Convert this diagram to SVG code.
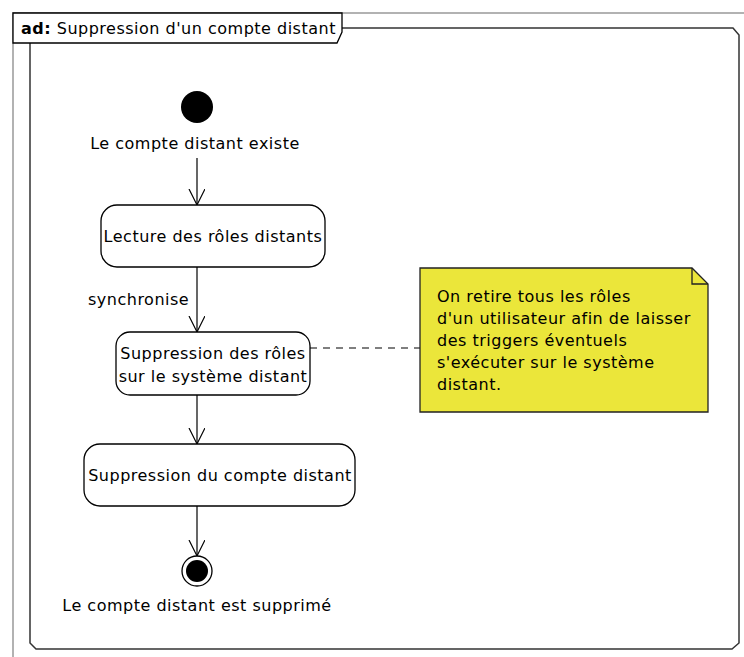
<svg xmlns="http://www.w3.org/2000/svg" width="744" height="657" viewBox="0 0 744 657">
<defs>
<style>
.t{font-family:"DejaVu Sans","Liberation Sans",sans-serif;font-size:16px;letter-spacing:0.5px;fill:#000}
.node{fill:#fff;stroke:#000;stroke-width:1.3}
.edge{stroke:#000;stroke-width:1.2;fill:none}
</style>
<marker id="arr" viewBox="0 0 20 20" refX="16" refY="8" markerWidth="20" markerHeight="20" markerUnits="userSpaceOnUse" orient="auto">
<path d="M0,0 L16,8 L0,16" fill="none" stroke="#000" stroke-width="1.2"/>
</marker>
</defs>
<rect width="744" height="657" fill="#fff"/>
<g id="frame">
<path d="M13,657 V13 H744" fill="none" stroke="#999" stroke-width="1.5"/>
<path d="M342,28 H733 L739,35 V643 L732,649 H36 L30,643 V43" fill="none" stroke="#333" stroke-width="1.5"/>
<path d="M13,13 H342 V32 L337,43 H13 Z" fill="#fff" stroke="#000" stroke-width="1.3"/>
<text class="t" x="21" y="34"><tspan font-weight="bold">ad:</tspan> Suppression d'un compte distant</text>
</g>
<g id="edges">
<line class="edge" x1="197" y1="158" x2="197" y2="205" marker-end="url(#arr)"/>
<line class="edge" x1="197" y1="267" x2="197" y2="332" marker-end="url(#arr)"/>
<text class="t" x="88" y="305">synchronise</text>
<line class="edge" x1="197" y1="395" x2="197" y2="444" marker-end="url(#arr)"/>
<line class="edge" x1="197" y1="506" x2="197" y2="556" marker-end="url(#arr)"/>
<line class="edge" x1="310" y1="348" x2="420" y2="348" stroke-dasharray="7,6"/>
</g>
<g id="start">
<circle cx="197" cy="107" r="16" fill="#000"/>
<text class="t" x="195" y="149" text-anchor="middle">Le compte distant existe</text>
</g>
<g id="lecture">
<rect class="node" x="101" y="205" width="224" height="62" rx="16"/>
<text class="t" x="213" y="242" text-anchor="middle">Lecture des rôles distants</text>
</g>
<g id="suppRoles">
<rect class="node" x="116" y="332" width="194" height="63" rx="14"/>
<text class="t" x="213" y="359" text-anchor="middle">Suppression des rôles</text>
<text class="t" x="213" y="382" text-anchor="middle">sur le système distant</text>
</g>
<g id="suppCompte">
<rect class="node" x="84" y="444" width="271" height="62" rx="16"/>
<text class="t" x="220" y="481" text-anchor="middle">Suppression du compte distant</text>
</g>
<g id="end">
<circle cx="197" cy="571" r="15" fill="#fff" stroke="#000" stroke-width="1.3"/>
<circle cx="197" cy="571" r="11" fill="#000"/>
<text class="t" x="197" y="611" text-anchor="middle">Le compte distant est supprimé</text>
</g>
<g id="note">
<path d="M420,268 H692 L708,284 V412 H420 Z" fill="#ebe63a" stroke="#222" stroke-width="1.3"/>
<path d="M692,268 V284 H708" fill="none" stroke="#222" stroke-width="1.3"/>
<text class="t" x="437" y="302">On retire tous les rôles</text>
<text class="t" x="437" y="324">d'un utilisateur afin de laisser</text>
<text class="t" x="437" y="346">des triggers éventuels</text>
<text class="t" x="437" y="368">s'exécuter sur le système</text>
<text class="t" x="437" y="390">distant.</text>
</g>
</svg>
